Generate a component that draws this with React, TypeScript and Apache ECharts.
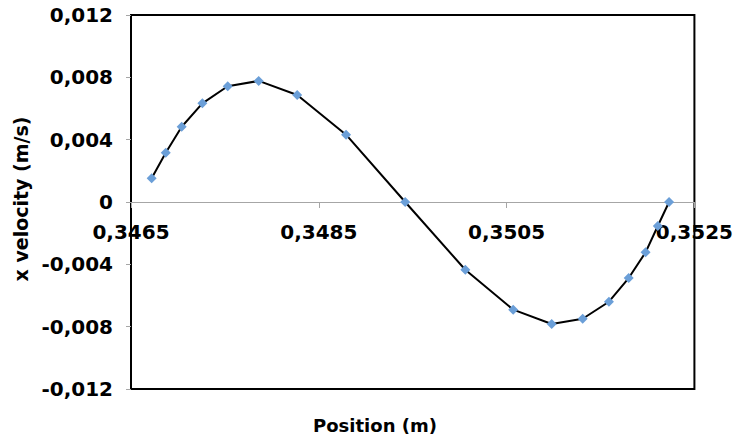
import React, { useEffect, useRef } from "react";
import * as echarts from "echarts";

const positions = [
  0.34672, 0.34687, 0.34704, 0.34726, 0.34753, 0.34786, 0.34827, 0.34879, 0.34942,
  0.35006, 0.35057, 0.35098, 0.35131, 0.35159, 0.3518, 0.35198, 0.35211, 0.35223,
];
const velocities = [
  0.00152, 0.00316, 0.00483, 0.00633, 0.00743, 0.00777, 0.00687, 0.00432, 0.0,
  -0.00435, -0.00691, -0.00783, -0.00749, -0.0064, -0.00488, -0.00323, -0.00154, 0.0,
];
const xTitle = "Position (m)";
const yTitle = "x velocity (m/s)";

const FONT = "'DejaVu Sans', Verdana, sans-serif";

export default function App() {
  const ref = useRef<HTMLDivElement>(null);
  useEffect(() => {
    if (!ref.current) return;
    const chart = echarts.init(ref.current, null, { renderer: "svg" });
    const data = positions.map((x, i) => [x, velocities[i]]);
    chart.setOption({
      animation: false,
      backgroundColor: "#ffffff",
      grid: {
        left: 131,
        right: 40,
        top: 15,
        bottom: 49,
        show: true,
        borderColor: "#000000",
        borderWidth: 2,
      },
      xAxis: {
        type: "value",
        position: "bottom",
        offset: -187,
        min: 0.3465,
        max: 0.3525,
        interval: 0.002,
        axisLine: { show: true, onZero: false, lineStyle: { color: "#a6a6a6", width: 1 } },
        axisTick: { show: true, inside: false, length: 6, lineStyle: { color: "#a6a6a6", width: 1 } },
        splitLine: { show: false },
        axisLabel: {
          showMinLabel: true,
          showMaxLabel: true,
          hideOverlap: false,
          margin: 20,
          color: "#000000",
          fontFamily: FONT,
          fontWeight: "bold",
          fontSize: 20,
          formatter: (v: number) => v.toFixed(4).replace(".", ","),
        },
      },
      yAxis: {
        type: "value",
        min: -0.012,
        max: 0.012,
        interval: 0.004,
        axisLine: { show: false },
        axisTick: { show: true, inside: false, length: 5, lineStyle: { color: "#a6a6a6", width: 1 } },
        splitLine: { show: false },
        axisLabel: {
          margin: 18,
          color: "#000000",
          fontFamily: FONT,
          fontWeight: "bold",
          fontSize: 20,
          formatter: (v: number) =>
            Math.abs(v) < 1e-9 ? "0" : v.toFixed(3).replace(".", ","),
        },
      },
      series: [
        {
          type: "line",
          data,
          smooth: false,
          symbol: "diamond",
          symbolSize: 10,
          showAllSymbol: true,
          lineStyle: { color: "#000000", width: 2 },
          itemStyle: { color: "#6b9fd8", borderWidth: 0 },
          z: 3,
        },
      ],
      graphic: [
        {
          type: "text",
          x: 375,
          y: 425,
          style: {
            text: xTitle,
            fontFamily: FONT,
            fontWeight: "bold",
            fontSize: 18,
            fill: "#000000",
            align: "center",
            verticalAlign: "middle",
          },
        },
        {
          type: "text",
          x: 21,
          y: 199,
          rotation: Math.PI / 2,
          style: {
            text: yTitle,
            fontFamily: FONT,
            fontWeight: "bold",
            fontSize: 19,
            fill: "#000000",
            align: "center",
            verticalAlign: "middle",
          },
        },
      ],
    });
    return () => chart.dispose();
  }, []);
  return (
    <div
      ref={ref}
      style={{ position: "fixed", left: 0, top: 0, width: 736, height: 438, background: "#fff" }}
    />
  );
}
